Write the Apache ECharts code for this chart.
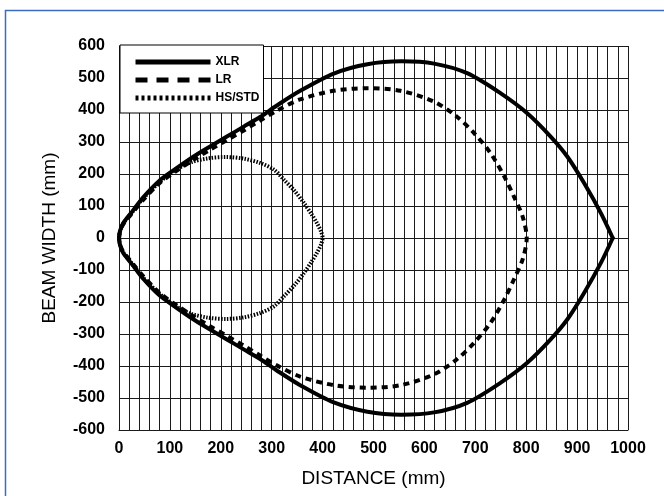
<!DOCTYPE html>
<html>
<head>
<meta charset="utf-8">
<script src="https://cdn.jsdelivr.net/npm/echarts@6/dist/echarts.min.js"></script>
<style>
  html, body { margin: 0; padding: 0; background: #fff; }
  #chart { width: 664px; height: 496px; }
</style>
</head>
<body>
<div id="chart"></div>
<script>
// ~~ Data (upper and lower half of each beam)

const xlrDist = [0, 2, 8, 28, 48, 80, 113, 146, 179, 212, 245, 278, 310, 356, 422, 488, 555, 619, 684, 750, 802, 848, 881, 914, 947, 970]
const xlrUpper = [0, 22, 46, 87, 128, 180, 218, 254, 286, 317, 348, 379, 414, 460, 514, 543, 552, 545, 515, 452, 390, 317, 254, 171, 77, 0]
const xlrLower = [0, -22, -46, -87, -128, -180, -218, -254, -286, -317, -348, -379, -414, -460, -514, -543, -552, -545, -515, -452, -390, -317, -254, -171, -77, 0]

const lrDist = [0, 2, 8, 28, 48, 80, 113, 146, 179, 212, 245, 278, 310, 356, 422, 488, 553, 619, 664, 698, 730, 757, 776, 793, 801]
const lrUpper = [0, 20, 42, 82, 120, 172, 210, 244, 276, 306, 336, 368, 398, 433, 460, 468, 460, 426, 379, 327, 265, 192, 129, 67, 0]
const lrLower = [0, -20, -42, -82, -120, -172, -210, -244, -276, -306, -336, -368, -398, -433, -460, -468, -460, -426, -379, -327, -265, -192, -129, -67, 0]

const hsDist = [0, 2, 8, 28, 48, 80, 110, 140, 175, 210, 245, 278, 305, 324, 345, 363, 378, 389, 397, 400]
const hsUpper = [0, 20, 44, 85, 125, 175, 212, 236, 249, 253, 248, 234, 213, 182, 147, 110, 75, 46, 20, 0]
const hsLower = [0, -20, -44, -85, -125, -175, -212, -236, -249, -253, -248, -234, -213, -182, -147, -110, -75, -46, -20, 0]

const xTicks = { min: 0, max: 1000, step: 100 }
const yTicks = { min: -600, max: 600, step: 100 }

// upper half out, lower half back -> one closed outline
const _loop = function (dist, upper, lower) {
  const pts = []
  for (let i = 0; i < dist.length; i++) pts.push([dist[i], upper[i]])
  for (let i = dist.length - 2; i >= 0; i--) pts.push([dist[i], lower[i]])
  return pts
}

const _half = function (dist, w) {
  return dist.map((d, i) => [d, w[i]])
}

const FONT = "'Liberation Sans', Arial, sans-serif"
const GRID_COLOR = '#1a1a1a'

const xlrStyle = { color: '#000', width: 4, cap: 'round', join: 'round' }

const option = {
  backgroundColor: '#fff',
  animation: false,
  textStyle: { fontFamily: FONT },
  graphic: [
    {
      type: 'rect',
      shape: { x: 5.5, y: 10.5, width: 720, height: 620 },
      style: { fill: 'none', stroke: '#3a6cc4', lineWidth: 1.5 },
      silent: true,
    },
  ],
  grid: { left: 119, right: 36, top: 46, bottom: 66, containLabel: false },
  legend: {
    orient: 'vertical',
    left: 120,
    top: 45,
    padding: [11, 4, 9, 13],
    itemWidth: 75,
    itemHeight: 14,
    itemGap: 6,
    backgroundColor: '#fff',
    borderColor: '#000',
    borderWidth: 1,
    itemStyle: { opacity: 0 },
    lineStyle: { width: 4 },
    textStyle: { fontFamily: FONT, fontWeight: 'bold', fontSize: 12, color: '#000' },
    data: [
      { name: 'XLR', lineStyle: { width: 5, type: 'solid', cap: 'butt' } },
      { name: 'LR', lineStyle: { width: 5, type: [12, 9] } },
      { name: 'HS/STD', lineStyle: { width: 5, type: [3, 3] } },
    ],
  },
  xAxis: {
    type: 'value',
    min: xTicks.min,
    max: xTicks.max,
    interval: xTicks.step,
    name: 'DISTANCE (mm)',
    nameLocation: 'middle',
    nameGap: 39,
    nameTextStyle: { fontFamily: FONT, fontSize: 19, color: '#000' },
    axisLine: { onZero: false, lineStyle: { color: GRID_COLOR, width: 1 } },
    axisTick: { show: false },
    axisLabel: { fontFamily: FONT, fontWeight: 'bold', fontSize: 16, color: '#000', margin: 11, formatter: (v) => String(v) },
    splitLine: { show: true, lineStyle: { color: GRID_COLOR, width: 1 } },
    minorTick: { show: false, splitNumber: 5 },
    minorSplitLine: { show: true, lineStyle: { color: GRID_COLOR, width: 1 } },
  },
  yAxis: {
    type: 'value',
    min: yTicks.min,
    max: yTicks.max,
    interval: yTicks.step,
    name: 'BEAM WIDTH (mm)',
    nameLocation: 'middle',
    nameGap: 60,
    nameTextStyle: { fontFamily: FONT, fontSize: 19, color: '#000' },
    axisLine: { show: true, onZero: false, lineStyle: { color: GRID_COLOR, width: 1 } },
    axisTick: { show: false },
    axisLabel: { fontFamily: FONT, fontWeight: 'bold', fontSize: 16, color: '#000', margin: 14 },
    splitLine: { show: true, lineStyle: { color: GRID_COLOR, width: 1 } },
  },
  series: [
    {
      name: 'XLR',
      type: 'line',
      data: _half(xlrDist, xlrUpper),
      symbol: 'none',
      smooth: 0.3,
      lineStyle: xlrStyle,
      itemStyle: { color: '#000' },
      z: 5,
    },
    {
      name: 'XLR',
      type: 'line',
      data: _half(xlrDist, xlrLower),
      symbol: 'none',
      smooth: 0.3,
      lineStyle: xlrStyle,
      itemStyle: { color: '#000' },
      z: 5,
    },
    {
      name: 'LR',
      type: 'line',
      data: _loop(lrDist, lrUpper, lrLower),
      symbol: 'none',
      smooth: 0.3,
      lineStyle: { color: '#000', width: 4, type: [6, 5] },
      itemStyle: { color: '#000' },
      z: 4,
    },
    {
      name: 'HS/STD',
      type: 'line',
      data: _loop(hsDist, hsUpper, hsLower),
      symbol: 'none',
      smooth: 0.3,
      lineStyle: { color: '#000', width: 4, type: [1.5, 1.5] },
      itemStyle: { color: '#000' },
      z: 3,
    },
  ],
}

const c = echarts.init(document.getElementById('chart'), null, { renderer: 'canvas' })
c.setOption(option)
</script>
</body>
</html>
